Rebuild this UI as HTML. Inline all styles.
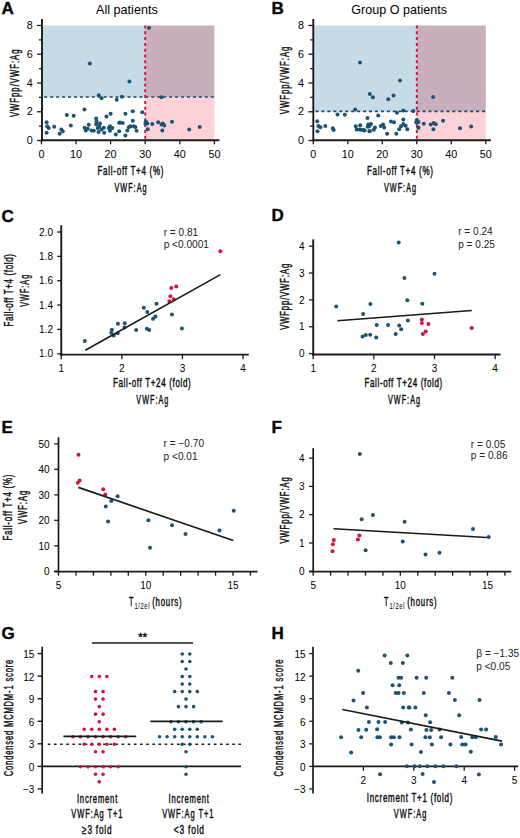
<!DOCTYPE html>
<html><head><meta charset="utf-8"><style>
html,body{margin:0;padding:0;background:#fff;}
svg{display:block;font-family:"Liberation Sans", sans-serif;}
</style></head><body>
<svg width="520" height="838" viewBox="0 0 520 838">
<rect width="520" height="838" fill="#fff"/>
<rect x="42.90" y="25.50" width="102.30" height="71.88" fill="#c6dbe6"/>
<rect x="145.20" y="25.50" width="69.20" height="71.88" fill="#c9aebc"/>
<rect x="145.20" y="97.38" width="69.20" height="43.12" fill="#fcd1d8"/>
<line x1="44.20" y1="96.97" x2="214.40" y2="96.97" stroke="#1b4d6a" stroke-width="1.6" stroke-dasharray="3 2.95"/>
<line x1="145.20" y1="25.50" x2="145.20" y2="140.50" stroke="#d8103c" stroke-width="1.9" stroke-dasharray="3 2.8"/>
<circle cx="46.60" cy="122.20" r="2.0" fill="#1a5374"/>
<circle cx="47.20" cy="126.30" r="2.0" fill="#1a5374"/>
<circle cx="48.70" cy="127.90" r="2.0" fill="#1a5374"/>
<circle cx="46.60" cy="132.70" r="2.0" fill="#1a5374"/>
<circle cx="54.20" cy="126.80" r="2.0" fill="#1a5374"/>
<circle cx="59.60" cy="133.70" r="2.0" fill="#1a5374"/>
<circle cx="61.30" cy="129.40" r="2.0" fill="#1a5374"/>
<circle cx="62.70" cy="131.20" r="2.0" fill="#1a5374"/>
<circle cx="66.80" cy="115.00" r="2.0" fill="#1a5374"/>
<circle cx="73.70" cy="115.80" r="2.0" fill="#1a5374"/>
<circle cx="70.80" cy="125.60" r="2.0" fill="#1a5374"/>
<circle cx="84.40" cy="109.50" r="2.0" fill="#1a5374"/>
<circle cx="106.50" cy="116.50" r="2.0" fill="#1a5374"/>
<circle cx="110.60" cy="113.80" r="2.0" fill="#1a5374"/>
<circle cx="96.20" cy="118.50" r="2.0" fill="#1a5374"/>
<circle cx="88.80" cy="124.80" r="2.0" fill="#1a5374"/>
<circle cx="84.60" cy="127.70" r="2.0" fill="#1a5374"/>
<circle cx="85.80" cy="130.40" r="2.0" fill="#1a5374"/>
<circle cx="87.70" cy="128.80" r="2.0" fill="#1a5374"/>
<circle cx="91.50" cy="130.40" r="2.0" fill="#1a5374"/>
<circle cx="93.80" cy="130.80" r="2.0" fill="#1a5374"/>
<circle cx="96.50" cy="121.50" r="2.0" fill="#1a5374"/>
<circle cx="96.20" cy="124.20" r="2.0" fill="#1a5374"/>
<circle cx="100.00" cy="123.50" r="2.0" fill="#1a5374"/>
<circle cx="97.70" cy="128.00" r="2.0" fill="#1a5374"/>
<circle cx="99.20" cy="126.50" r="2.0" fill="#1a5374"/>
<circle cx="101.50" cy="129.60" r="2.0" fill="#1a5374"/>
<circle cx="98.50" cy="131.90" r="2.0" fill="#1a5374"/>
<circle cx="103.80" cy="127.70" r="2.0" fill="#1a5374"/>
<circle cx="104.20" cy="132.70" r="2.0" fill="#1a5374"/>
<circle cx="110.00" cy="126.20" r="2.0" fill="#1a5374"/>
<circle cx="108.80" cy="128.00" r="2.0" fill="#1a5374"/>
<circle cx="112.30" cy="128.00" r="2.0" fill="#1a5374"/>
<circle cx="110.00" cy="130.80" r="2.0" fill="#1a5374"/>
<circle cx="115.80" cy="134.60" r="2.0" fill="#1a5374"/>
<circle cx="119.20" cy="122.70" r="2.0" fill="#1a5374"/>
<circle cx="119.20" cy="131.20" r="2.0" fill="#1a5374"/>
<circle cx="125.40" cy="113.80" r="2.0" fill="#1a5374"/>
<circle cx="132.80" cy="111.20" r="2.0" fill="#1a5374"/>
<circle cx="142.30" cy="112.20" r="2.0" fill="#1a5374"/>
<circle cx="120.00" cy="122.50" r="2.0" fill="#1a5374"/>
<circle cx="122.70" cy="123.10" r="2.0" fill="#1a5374"/>
<circle cx="132.80" cy="120.80" r="2.0" fill="#1a5374"/>
<circle cx="130.40" cy="126.20" r="2.0" fill="#1a5374"/>
<circle cx="133.80" cy="126.20" r="2.0" fill="#1a5374"/>
<circle cx="135.40" cy="127.00" r="2.0" fill="#1a5374"/>
<circle cx="128.80" cy="127.30" r="2.0" fill="#1a5374"/>
<circle cx="127.30" cy="130.40" r="2.0" fill="#1a5374"/>
<circle cx="136.50" cy="130.80" r="2.0" fill="#1a5374"/>
<circle cx="125.40" cy="135.40" r="2.0" fill="#1a5374"/>
<circle cx="145.80" cy="121.50" r="2.0" fill="#1a5374"/>
<circle cx="145.40" cy="123.80" r="2.0" fill="#1a5374"/>
<circle cx="147.30" cy="123.50" r="2.0" fill="#1a5374"/>
<circle cx="152.30" cy="124.00" r="2.0" fill="#1a5374"/>
<circle cx="147.70" cy="129.20" r="2.0" fill="#1a5374"/>
<circle cx="149.00" cy="27.80" r="2.0" fill="#1a5374"/>
<circle cx="129.40" cy="81.40" r="2.0" fill="#1a5374"/>
<circle cx="98.70" cy="95.20" r="2.0" fill="#1a5374"/>
<circle cx="101.50" cy="98.30" r="2.0" fill="#1a5374"/>
<circle cx="121.90" cy="96.70" r="2.0" fill="#1a5374"/>
<circle cx="116.70" cy="99.80" r="2.0" fill="#1a5374"/>
<circle cx="89.80" cy="63.60" r="2.0" fill="#1a5374"/>
<circle cx="161.50" cy="97.20" r="2.0" fill="#1a5374"/>
<circle cx="158.20" cy="122.30" r="2.0" fill="#1a5374"/>
<circle cx="161.50" cy="124.60" r="2.0" fill="#1a5374"/>
<circle cx="162.80" cy="123.50" r="2.0" fill="#1a5374"/>
<circle cx="164.30" cy="125.40" r="2.0" fill="#1a5374"/>
<circle cx="162.30" cy="130.50" r="2.0" fill="#1a5374"/>
<circle cx="172.00" cy="121.80" r="2.0" fill="#1a5374"/>
<circle cx="189.20" cy="129.40" r="2.0" fill="#1a5374"/>
<circle cx="199.70" cy="126.90" r="2.0" fill="#1a5374"/>
<line x1="42.00" y1="19.00" x2="42.00" y2="141.20" stroke="#1a1a1a" stroke-width="1.9"/>
<line x1="41.10" y1="140.30" x2="219.40" y2="140.30" stroke="#1a1a1a" stroke-width="1.9"/>
<line x1="37.10" y1="140.50" x2="42.00" y2="140.50" stroke="#1a1a1a" stroke-width="1.3"/>
<text x="32.80" y="144.10" font-size="10.8" text-anchor="end">0</text>
<line x1="38.90" y1="126.12" x2="42.00" y2="126.12" stroke="#1a1a1a" stroke-width="1.3"/>
<line x1="37.10" y1="111.75" x2="42.00" y2="111.75" stroke="#1a1a1a" stroke-width="1.3"/>
<text x="32.80" y="115.35" font-size="10.8" text-anchor="end">2</text>
<line x1="38.90" y1="97.38" x2="42.00" y2="97.38" stroke="#1a1a1a" stroke-width="1.3"/>
<line x1="37.10" y1="83.00" x2="42.00" y2="83.00" stroke="#1a1a1a" stroke-width="1.3"/>
<text x="32.80" y="86.60" font-size="10.8" text-anchor="end">4</text>
<line x1="38.90" y1="68.62" x2="42.00" y2="68.62" stroke="#1a1a1a" stroke-width="1.3"/>
<line x1="37.10" y1="54.25" x2="42.00" y2="54.25" stroke="#1a1a1a" stroke-width="1.3"/>
<text x="32.80" y="57.85" font-size="10.8" text-anchor="end">6</text>
<line x1="38.90" y1="39.88" x2="42.00" y2="39.88" stroke="#1a1a1a" stroke-width="1.3"/>
<line x1="37.10" y1="25.50" x2="42.00" y2="25.50" stroke="#1a1a1a" stroke-width="1.3"/>
<text x="32.80" y="29.10" font-size="10.8" text-anchor="end">8</text>
<line x1="41.40" y1="140.30" x2="41.40" y2="144.30" stroke="#1a1a1a" stroke-width="1.3"/>
<text x="41.40" y="157.60" font-size="10.8" text-anchor="middle">0</text>
<line x1="76.00" y1="140.30" x2="76.00" y2="144.30" stroke="#1a1a1a" stroke-width="1.3"/>
<text x="76.00" y="157.60" font-size="10.8" text-anchor="middle">10</text>
<line x1="110.60" y1="140.30" x2="110.60" y2="144.30" stroke="#1a1a1a" stroke-width="1.3"/>
<text x="110.60" y="157.60" font-size="10.8" text-anchor="middle">20</text>
<line x1="145.20" y1="140.30" x2="145.20" y2="144.30" stroke="#1a1a1a" stroke-width="1.3"/>
<text x="145.20" y="157.60" font-size="10.8" text-anchor="middle">30</text>
<line x1="179.80" y1="140.30" x2="179.80" y2="144.30" stroke="#1a1a1a" stroke-width="1.3"/>
<text x="179.80" y="157.60" font-size="10.8" text-anchor="middle">40</text>
<line x1="214.40" y1="140.30" x2="214.40" y2="144.30" stroke="#1a1a1a" stroke-width="1.3"/>
<text x="214.40" y="157.60" font-size="10.8" text-anchor="middle">50</text>
<text x="126.90" y="13.50" font-size="12.6" text-anchor="middle">All patients</text>
<text x="1.50" y="13.85" font-size="17" text-anchor="start" font-weight="bold" stroke="#1a1a1a" stroke-width="0.45">A</text>
<rect x="314.20" y="25.50" width="102.60" height="86.25" fill="#c6dbe6"/>
<rect x="416.80" y="25.50" width="69.00" height="86.25" fill="#c9aebc"/>
<rect x="416.80" y="111.75" width="69.00" height="28.75" fill="#fcd1d8"/>
<line x1="315.50" y1="111.35" x2="485.80" y2="111.35" stroke="#1b4d6a" stroke-width="1.6" stroke-dasharray="3 2.95"/>
<line x1="416.80" y1="25.50" x2="416.80" y2="140.50" stroke="#d8103c" stroke-width="1.9" stroke-dasharray="3 2.8"/>
<circle cx="317.20" cy="121.30" r="2.0" fill="#1a5374"/>
<circle cx="318.30" cy="125.90" r="2.0" fill="#1a5374"/>
<circle cx="320.40" cy="127.30" r="2.0" fill="#1a5374"/>
<circle cx="317.50" cy="131.30" r="2.0" fill="#1a5374"/>
<circle cx="325.30" cy="125.90" r="2.0" fill="#1a5374"/>
<circle cx="332.80" cy="128.20" r="2.0" fill="#1a5374"/>
<circle cx="333.70" cy="130.00" r="2.0" fill="#1a5374"/>
<circle cx="337.50" cy="114.40" r="2.0" fill="#1a5374"/>
<circle cx="344.80" cy="114.80" r="2.0" fill="#1a5374"/>
<circle cx="355.20" cy="109.40" r="2.0" fill="#1a5374"/>
<circle cx="355.80" cy="126.20" r="2.0" fill="#1a5374"/>
<circle cx="360.20" cy="125.20" r="2.0" fill="#1a5374"/>
<circle cx="356.70" cy="129.60" r="2.0" fill="#1a5374"/>
<circle cx="359.60" cy="129.60" r="2.0" fill="#1a5374"/>
<circle cx="363.70" cy="130.00" r="2.0" fill="#1a5374"/>
<circle cx="367.50" cy="118.10" r="2.0" fill="#1a5374"/>
<circle cx="368.30" cy="124.40" r="2.0" fill="#1a5374"/>
<circle cx="367.70" cy="126.70" r="2.0" fill="#1a5374"/>
<circle cx="369.40" cy="131.30" r="2.0" fill="#1a5374"/>
<circle cx="369.80" cy="94.00" r="2.0" fill="#1a5374"/>
<circle cx="372.90" cy="97.20" r="2.0" fill="#1a5374"/>
<circle cx="388.30" cy="99.20" r="2.0" fill="#1a5374"/>
<circle cx="393.50" cy="95.50" r="2.0" fill="#1a5374"/>
<circle cx="396.90" cy="112.80" r="2.0" fill="#1a5374"/>
<circle cx="403.30" cy="110.50" r="2.0" fill="#1a5374"/>
<circle cx="413.30" cy="111.00" r="2.0" fill="#1a5374"/>
<circle cx="378.20" cy="115.60" r="2.0" fill="#1a5374"/>
<circle cx="403.30" cy="119.40" r="2.0" fill="#1a5374"/>
<circle cx="390.90" cy="121.40" r="2.0" fill="#1a5374"/>
<circle cx="394.00" cy="122.30" r="2.0" fill="#1a5374"/>
<circle cx="371.00" cy="124.00" r="2.0" fill="#1a5374"/>
<circle cx="369.20" cy="126.30" r="2.0" fill="#1a5374"/>
<circle cx="375.00" cy="127.50" r="2.0" fill="#1a5374"/>
<circle cx="373.80" cy="129.80" r="2.0" fill="#1a5374"/>
<circle cx="369.80" cy="131.00" r="2.0" fill="#1a5374"/>
<circle cx="364.60" cy="130.40" r="2.0" fill="#1a5374"/>
<circle cx="361.20" cy="129.80" r="2.0" fill="#1a5374"/>
<circle cx="383.10" cy="124.40" r="2.0" fill="#1a5374"/>
<circle cx="380.80" cy="126.00" r="2.0" fill="#1a5374"/>
<circle cx="384.20" cy="127.50" r="2.0" fill="#1a5374"/>
<circle cx="403.30" cy="124.00" r="2.0" fill="#1a5374"/>
<circle cx="401.00" cy="126.30" r="2.0" fill="#1a5374"/>
<circle cx="405.60" cy="125.80" r="2.0" fill="#1a5374"/>
<circle cx="399.20" cy="129.20" r="2.0" fill="#1a5374"/>
<circle cx="407.30" cy="129.20" r="2.0" fill="#1a5374"/>
<circle cx="387.10" cy="133.80" r="2.0" fill="#1a5374"/>
<circle cx="396.30" cy="133.80" r="2.0" fill="#1a5374"/>
<circle cx="417.10" cy="121.20" r="2.0" fill="#1a5374"/>
<circle cx="418.30" cy="127.50" r="2.0" fill="#1a5374"/>
<circle cx="433.10" cy="96.90" r="2.0" fill="#1a5374"/>
<circle cx="416.90" cy="120.00" r="2.0" fill="#1a5374"/>
<circle cx="416.20" cy="122.30" r="2.0" fill="#1a5374"/>
<circle cx="418.50" cy="122.00" r="2.0" fill="#1a5374"/>
<circle cx="418.50" cy="127.70" r="2.0" fill="#1a5374"/>
<circle cx="423.80" cy="123.80" r="2.0" fill="#1a5374"/>
<circle cx="430.80" cy="124.60" r="2.0" fill="#1a5374"/>
<circle cx="433.80" cy="123.10" r="2.0" fill="#1a5374"/>
<circle cx="435.80" cy="124.20" r="2.0" fill="#1a5374"/>
<circle cx="433.40" cy="129.20" r="2.0" fill="#1a5374"/>
<circle cx="443.10" cy="120.80" r="2.0" fill="#1a5374"/>
<circle cx="460.00" cy="128.20" r="2.0" fill="#1a5374"/>
<circle cx="471.20" cy="126.50" r="2.0" fill="#1a5374"/>
<circle cx="360.00" cy="62.50" r="2.0" fill="#1a5374"/>
<circle cx="400.00" cy="80.50" r="2.0" fill="#1a5374"/>
<line x1="313.30" y1="19.00" x2="313.30" y2="141.20" stroke="#1a1a1a" stroke-width="1.9"/>
<line x1="312.40" y1="140.30" x2="490.80" y2="140.30" stroke="#1a1a1a" stroke-width="1.9"/>
<line x1="308.40" y1="140.50" x2="313.30" y2="140.50" stroke="#1a1a1a" stroke-width="1.3"/>
<text x="304.10" y="144.10" font-size="10.8" text-anchor="end">0</text>
<line x1="310.20" y1="126.12" x2="313.30" y2="126.12" stroke="#1a1a1a" stroke-width="1.3"/>
<line x1="308.40" y1="111.75" x2="313.30" y2="111.75" stroke="#1a1a1a" stroke-width="1.3"/>
<text x="304.10" y="115.35" font-size="10.8" text-anchor="end">2</text>
<line x1="310.20" y1="97.38" x2="313.30" y2="97.38" stroke="#1a1a1a" stroke-width="1.3"/>
<line x1="308.40" y1="83.00" x2="313.30" y2="83.00" stroke="#1a1a1a" stroke-width="1.3"/>
<text x="304.10" y="86.60" font-size="10.8" text-anchor="end">4</text>
<line x1="310.20" y1="68.62" x2="313.30" y2="68.62" stroke="#1a1a1a" stroke-width="1.3"/>
<line x1="308.40" y1="54.25" x2="313.30" y2="54.25" stroke="#1a1a1a" stroke-width="1.3"/>
<text x="304.10" y="57.85" font-size="10.8" text-anchor="end">6</text>
<line x1="310.20" y1="39.88" x2="313.30" y2="39.88" stroke="#1a1a1a" stroke-width="1.3"/>
<line x1="308.40" y1="25.50" x2="313.30" y2="25.50" stroke="#1a1a1a" stroke-width="1.3"/>
<text x="304.10" y="29.10" font-size="10.8" text-anchor="end">8</text>
<line x1="313.30" y1="140.30" x2="313.30" y2="144.30" stroke="#1a1a1a" stroke-width="1.3"/>
<text x="313.30" y="157.60" font-size="10.8" text-anchor="middle">0</text>
<line x1="347.80" y1="140.30" x2="347.80" y2="144.30" stroke="#1a1a1a" stroke-width="1.3"/>
<text x="347.80" y="157.60" font-size="10.8" text-anchor="middle">10</text>
<line x1="382.30" y1="140.30" x2="382.30" y2="144.30" stroke="#1a1a1a" stroke-width="1.3"/>
<text x="382.30" y="157.60" font-size="10.8" text-anchor="middle">20</text>
<line x1="416.80" y1="140.30" x2="416.80" y2="144.30" stroke="#1a1a1a" stroke-width="1.3"/>
<text x="416.80" y="157.60" font-size="10.8" text-anchor="middle">30</text>
<line x1="451.30" y1="140.30" x2="451.30" y2="144.30" stroke="#1a1a1a" stroke-width="1.3"/>
<text x="451.30" y="157.60" font-size="10.8" text-anchor="middle">40</text>
<line x1="485.80" y1="140.30" x2="485.80" y2="144.30" stroke="#1a1a1a" stroke-width="1.3"/>
<text x="485.80" y="157.60" font-size="10.8" text-anchor="middle">50</text>
<text x="399.10" y="13.50" font-size="12.6" text-anchor="middle">Group O patients</text>
<text x="271.50" y="13.85" font-size="17" text-anchor="start" font-weight="bold" stroke="#1a1a1a" stroke-width="0.45">B</text>
<text x="0" y="0" font-size="12.3" text-anchor="middle" stroke="#1a1a1a" stroke-width="0.45" textLength="100.76" lengthAdjust="spacing" transform="translate(130.50 174.90) scale(0.6550 1)">Fall-off T+4 (%)</text>
<text x="0" y="0" font-size="12.3" text-anchor="middle" stroke="#1a1a1a" stroke-width="0.45" textLength="54.51" lengthAdjust="spacing" transform="translate(130.50 191.80) scale(0.5870 1)">VWF:Ag</text>
<text x="0" y="0" font-size="12.3" text-anchor="middle" stroke="#1a1a1a" stroke-width="0.45" textLength="100.76" lengthAdjust="spacing" transform="translate(400.00 174.90) scale(0.6550 1)">Fall-off T+4 (%)</text>
<text x="0" y="0" font-size="12.3" text-anchor="middle" stroke="#1a1a1a" stroke-width="0.45" textLength="54.51" lengthAdjust="spacing" transform="translate(400.00 191.80) scale(0.5870 1)">VWF:Ag</text>
<text x="0" y="0" font-size="12.3" text-anchor="middle" stroke="#1a1a1a" stroke-width="0.45" textLength="107.40" lengthAdjust="spacing" transform="translate(18.80 83.30) rotate(-90) scale(0.6285 1)">VWFpp/VWF:Ag</text>
<text x="0" y="0" font-size="12.3" text-anchor="middle" stroke="#1a1a1a" stroke-width="0.45" textLength="107.40" lengthAdjust="spacing" transform="translate(288.60 80.40) rotate(-90) scale(0.6285 1)">VWFpp/VWF:Ag</text>
<line x1="61.25" y1="225.30" x2="61.25" y2="355.60" stroke="#1a1a1a" stroke-width="1.9"/>
<line x1="60.30" y1="354.60" x2="248.75" y2="354.60" stroke="#1a1a1a" stroke-width="1.9"/>
<line x1="57.20" y1="353.75" x2="61.25" y2="353.75" stroke="#1a1a1a" stroke-width="1.3"/>
<text x="53.00" y="357.45" font-size="10.0" text-anchor="end">1.0</text>
<line x1="57.20" y1="329.40" x2="61.25" y2="329.40" stroke="#1a1a1a" stroke-width="1.3"/>
<text x="53.00" y="333.10" font-size="10.0" text-anchor="end">1.2</text>
<line x1="57.20" y1="305.05" x2="61.25" y2="305.05" stroke="#1a1a1a" stroke-width="1.3"/>
<text x="53.00" y="308.75" font-size="10.0" text-anchor="end">1.4</text>
<line x1="57.20" y1="280.70" x2="61.25" y2="280.70" stroke="#1a1a1a" stroke-width="1.3"/>
<text x="53.00" y="284.40" font-size="10.0" text-anchor="end">1.6</text>
<line x1="57.20" y1="256.35" x2="61.25" y2="256.35" stroke="#1a1a1a" stroke-width="1.3"/>
<text x="53.00" y="260.05" font-size="10.0" text-anchor="end">1.8</text>
<line x1="57.20" y1="232.00" x2="61.25" y2="232.00" stroke="#1a1a1a" stroke-width="1.3"/>
<text x="53.00" y="235.70" font-size="10.0" text-anchor="end">2.0</text>
<line x1="61.25" y1="354.60" x2="61.25" y2="359.20" stroke="#1a1a1a" stroke-width="1.3"/>
<text x="61.25" y="372.30" font-size="10.0" text-anchor="middle">1</text>
<line x1="121.85" y1="354.60" x2="121.85" y2="359.20" stroke="#1a1a1a" stroke-width="1.3"/>
<text x="121.85" y="372.30" font-size="10.0" text-anchor="middle">2</text>
<line x1="182.45" y1="354.60" x2="182.45" y2="359.20" stroke="#1a1a1a" stroke-width="1.3"/>
<text x="182.45" y="372.30" font-size="10.0" text-anchor="middle">3</text>
<line x1="243.05" y1="354.60" x2="243.05" y2="359.20" stroke="#1a1a1a" stroke-width="1.3"/>
<text x="243.05" y="372.30" font-size="10.0" text-anchor="middle">4</text>
<circle cx="84.80" cy="341.10" r="2.0" fill="#1a5374"/>
<circle cx="111.90" cy="329.80" r="2.0" fill="#1a5374"/>
<circle cx="111.30" cy="332.70" r="2.0" fill="#1a5374"/>
<circle cx="113.70" cy="335.60" r="2.0" fill="#1a5374"/>
<circle cx="117.90" cy="323.70" r="2.0" fill="#1a5374"/>
<circle cx="117.70" cy="333.30" r="2.0" fill="#1a5374"/>
<circle cx="124.80" cy="323.20" r="2.0" fill="#1a5374"/>
<circle cx="124.60" cy="327.50" r="2.0" fill="#1a5374"/>
<circle cx="136.20" cy="330.00" r="2.0" fill="#1a5374"/>
<circle cx="143.80" cy="307.70" r="2.0" fill="#1a5374"/>
<circle cx="147.30" cy="312.10" r="2.0" fill="#1a5374"/>
<circle cx="155.40" cy="316.50" r="2.0" fill="#1a5374"/>
<circle cx="153.10" cy="318.80" r="2.0" fill="#1a5374"/>
<circle cx="156.50" cy="303.80" r="2.0" fill="#1a5374"/>
<circle cx="171.90" cy="314.60" r="2.0" fill="#1a5374"/>
<circle cx="146.90" cy="328.80" r="2.0" fill="#1a5374"/>
<circle cx="149.20" cy="330.00" r="2.0" fill="#1a5374"/>
<circle cx="181.90" cy="328.50" r="2.0" fill="#1a5374"/>
<circle cx="220.40" cy="251.20" r="2.0" fill="#d6113f"/>
<circle cx="171.30" cy="288.10" r="2.0" fill="#d6113f"/>
<circle cx="176.20" cy="286.50" r="2.0" fill="#d6113f"/>
<circle cx="170.40" cy="296.30" r="2.0" fill="#d6113f"/>
<circle cx="169.40" cy="301.20" r="2.0" fill="#d6113f"/>
<circle cx="173.80" cy="299.20" r="2.0" fill="#d6113f"/>
<line x1="85.30" y1="350.30" x2="220.40" y2="274.60" stroke="#1a1a1a" stroke-width="1.65"/>
<text x="163.70" y="235.60" font-size="10.1" text-anchor="start" fill="#222222">r = 0.81</text>
<text x="163.70" y="247.80" font-size="10.1" text-anchor="start" fill="#222222">p &lt;0.0001</text>
<text x="0" y="0" font-size="12.3" text-anchor="middle" stroke="#1a1a1a" stroke-width="0.45" textLength="119.49" lengthAdjust="spacing" transform="translate(151.80 386.60) scale(0.6511 1)">Fall-off T+24 (fold)</text>
<text x="0" y="0" font-size="12.3" text-anchor="middle" stroke="#1a1a1a" stroke-width="0.45" textLength="54.51" lengthAdjust="spacing" transform="translate(152.30 403.50) scale(0.5870 1)">VWF:Ag</text>
<text x="0" y="0" font-size="12.3" text-anchor="middle" stroke="#1a1a1a" stroke-width="0.45" textLength="111.35" lengthAdjust="spacing" transform="translate(13.20 290.30) rotate(-90) scale(0.6520 1)">Fall-off T+4 (fold)</text>
<text x="0" y="0" font-size="12.3" text-anchor="middle" stroke="#1a1a1a" stroke-width="0.45" textLength="54.51" lengthAdjust="spacing" transform="translate(28.90 290.80) rotate(-90) scale(0.5870 1)">VWF:Ag</text>
<text x="1.50" y="222.00" font-size="17" text-anchor="start" font-weight="bold" stroke="#1a1a1a" stroke-width="0.45">C</text>
<line x1="313.20" y1="239.40" x2="313.20" y2="355.40" stroke="#1a1a1a" stroke-width="1.9"/>
<line x1="312.20" y1="354.50" x2="500.50" y2="354.50" stroke="#1a1a1a" stroke-width="1.9"/>
<line x1="309.00" y1="353.60" x2="313.20" y2="353.60" stroke="#1a1a1a" stroke-width="1.3"/>
<text x="304.50" y="357.30" font-size="10.0" text-anchor="end">0</text>
<line x1="309.00" y1="326.75" x2="313.20" y2="326.75" stroke="#1a1a1a" stroke-width="1.3"/>
<text x="304.50" y="330.45" font-size="10.0" text-anchor="end">1</text>
<line x1="309.00" y1="299.90" x2="313.20" y2="299.90" stroke="#1a1a1a" stroke-width="1.3"/>
<text x="304.50" y="303.60" font-size="10.0" text-anchor="end">2</text>
<line x1="309.00" y1="273.05" x2="313.20" y2="273.05" stroke="#1a1a1a" stroke-width="1.3"/>
<text x="304.50" y="276.75" font-size="10.0" text-anchor="end">3</text>
<line x1="309.00" y1="246.20" x2="313.20" y2="246.20" stroke="#1a1a1a" stroke-width="1.3"/>
<text x="304.50" y="249.90" font-size="10.0" text-anchor="end">4</text>
<line x1="313.20" y1="354.50" x2="313.20" y2="359.20" stroke="#1a1a1a" stroke-width="1.3"/>
<text x="313.20" y="372.30" font-size="10.0" text-anchor="middle">1</text>
<line x1="373.85" y1="354.50" x2="373.85" y2="359.20" stroke="#1a1a1a" stroke-width="1.3"/>
<text x="373.85" y="372.30" font-size="10.0" text-anchor="middle">2</text>
<line x1="434.50" y1="354.50" x2="434.50" y2="359.20" stroke="#1a1a1a" stroke-width="1.3"/>
<text x="434.50" y="372.30" font-size="10.0" text-anchor="middle">3</text>
<line x1="495.15" y1="354.50" x2="495.15" y2="359.20" stroke="#1a1a1a" stroke-width="1.3"/>
<text x="495.15" y="372.30" font-size="10.0" text-anchor="middle">4</text>
<circle cx="398.70" cy="242.50" r="2.0" fill="#1a5374"/>
<circle cx="404.40" cy="278.10" r="2.0" fill="#1a5374"/>
<circle cx="434.50" cy="273.75" r="2.0" fill="#1a5374"/>
<circle cx="370.40" cy="304.00" r="2.0" fill="#1a5374"/>
<circle cx="407.30" cy="300.30" r="2.0" fill="#1a5374"/>
<circle cx="422.30" cy="303.70" r="2.0" fill="#1a5374"/>
<circle cx="336.20" cy="306.50" r="2.0" fill="#1a5374"/>
<circle cx="363.10" cy="314.00" r="2.0" fill="#1a5374"/>
<circle cx="407.90" cy="320.60" r="2.0" fill="#1a5374"/>
<circle cx="376.70" cy="325.10" r="2.0" fill="#1a5374"/>
<circle cx="388.10" cy="324.90" r="2.0" fill="#1a5374"/>
<circle cx="399.20" cy="325.60" r="2.0" fill="#1a5374"/>
<circle cx="401.20" cy="329.30" r="2.0" fill="#1a5374"/>
<circle cx="395.70" cy="334.10" r="2.0" fill="#1a5374"/>
<circle cx="362.60" cy="336.50" r="2.0" fill="#1a5374"/>
<circle cx="365.80" cy="335.00" r="2.0" fill="#1a5374"/>
<circle cx="370.20" cy="334.70" r="2.0" fill="#1a5374"/>
<circle cx="376.20" cy="337.40" r="2.0" fill="#1a5374"/>
<circle cx="421.90" cy="319.40" r="2.0" fill="#d6113f"/>
<circle cx="421.90" cy="323.00" r="2.0" fill="#d6113f"/>
<circle cx="428.40" cy="324.00" r="2.0" fill="#d6113f"/>
<circle cx="425.70" cy="331.40" r="2.0" fill="#d6113f"/>
<circle cx="422.90" cy="334.00" r="2.0" fill="#d6113f"/>
<circle cx="471.75" cy="328.00" r="2.0" fill="#d6113f"/>
<line x1="337.40" y1="320.70" x2="471.75" y2="310.50" stroke="#1a1a1a" stroke-width="1.65"/>
<text x="458.20" y="235.40" font-size="10.1" text-anchor="start" fill="#222222">r = 0.24</text>
<text x="458.20" y="247.60" font-size="10.1" text-anchor="start" fill="#222222">p = 0.25</text>
<text x="0" y="0" font-size="12.3" text-anchor="middle" stroke="#1a1a1a" stroke-width="0.45" textLength="119.49" lengthAdjust="spacing" transform="translate(403.30 386.60) scale(0.6511 1)">Fall-off T+24 (fold)</text>
<text x="0" y="0" font-size="12.3" text-anchor="middle" stroke="#1a1a1a" stroke-width="0.45" textLength="54.51" lengthAdjust="spacing" transform="translate(404.00 403.50) scale(0.5870 1)">VWF:Ag</text>
<text x="0" y="0" font-size="12.3" text-anchor="middle" stroke="#1a1a1a" stroke-width="0.45" textLength="107.40" lengthAdjust="spacing" transform="translate(289.00 296.80) rotate(-90) scale(0.6145 1)">VWFpp/VWF:Ag</text>
<text x="271.50" y="220.60" font-size="17" text-anchor="start" font-weight="bold" stroke="#1a1a1a" stroke-width="0.45">D</text>
<line x1="58.50" y1="437.20" x2="58.50" y2="573.00" stroke="#1a1a1a" stroke-width="1.7"/>
<line x1="54.20" y1="571.60" x2="257.50" y2="571.60" stroke="#1a1a1a" stroke-width="1.7"/>
<line x1="54.20" y1="571.30" x2="58.50" y2="571.30" stroke="#1a1a1a" stroke-width="1.3"/>
<text x="49.50" y="575.00" font-size="10.0" text-anchor="end">0</text>
<line x1="54.20" y1="545.81" x2="58.50" y2="545.81" stroke="#1a1a1a" stroke-width="1.3"/>
<text x="49.50" y="549.51" font-size="10.0" text-anchor="end">10</text>
<line x1="54.20" y1="520.32" x2="58.50" y2="520.32" stroke="#1a1a1a" stroke-width="1.3"/>
<text x="49.50" y="524.02" font-size="10.0" text-anchor="end">20</text>
<line x1="54.20" y1="494.83" x2="58.50" y2="494.83" stroke="#1a1a1a" stroke-width="1.3"/>
<text x="49.50" y="498.53" font-size="10.0" text-anchor="end">30</text>
<line x1="54.20" y1="469.34" x2="58.50" y2="469.34" stroke="#1a1a1a" stroke-width="1.3"/>
<text x="49.50" y="473.04" font-size="10.0" text-anchor="end">40</text>
<line x1="54.20" y1="443.85" x2="58.50" y2="443.85" stroke="#1a1a1a" stroke-width="1.3"/>
<text x="49.50" y="447.55" font-size="10.0" text-anchor="end">50</text>
<line x1="58.50" y1="571.60" x2="58.50" y2="575.70" stroke="#1a1a1a" stroke-width="1.3"/>
<line x1="75.95" y1="571.60" x2="75.95" y2="575.70" stroke="#1a1a1a" stroke-width="1.3"/>
<line x1="93.40" y1="571.60" x2="93.40" y2="575.70" stroke="#1a1a1a" stroke-width="1.3"/>
<line x1="110.85" y1="571.60" x2="110.85" y2="575.70" stroke="#1a1a1a" stroke-width="1.3"/>
<line x1="128.30" y1="571.60" x2="128.30" y2="575.70" stroke="#1a1a1a" stroke-width="1.3"/>
<line x1="145.75" y1="571.60" x2="145.75" y2="575.70" stroke="#1a1a1a" stroke-width="1.3"/>
<line x1="163.20" y1="571.60" x2="163.20" y2="575.70" stroke="#1a1a1a" stroke-width="1.3"/>
<line x1="180.65" y1="571.60" x2="180.65" y2="575.70" stroke="#1a1a1a" stroke-width="1.3"/>
<line x1="198.10" y1="571.60" x2="198.10" y2="575.70" stroke="#1a1a1a" stroke-width="1.3"/>
<line x1="215.55" y1="571.60" x2="215.55" y2="575.70" stroke="#1a1a1a" stroke-width="1.3"/>
<line x1="233.00" y1="571.60" x2="233.00" y2="575.70" stroke="#1a1a1a" stroke-width="1.3"/>
<line x1="250.45" y1="571.60" x2="250.45" y2="575.70" stroke="#1a1a1a" stroke-width="1.3"/>
<text x="58.50" y="588.80" font-size="10.0" text-anchor="middle">5</text>
<text x="145.75" y="588.80" font-size="10.0" text-anchor="middle">10</text>
<text x="233.00" y="588.80" font-size="10.0" text-anchor="middle">15</text>
<circle cx="117.60" cy="496.30" r="2.0" fill="#1a5374"/>
<circle cx="111.30" cy="501.00" r="2.0" fill="#1a5374"/>
<circle cx="105.80" cy="506.60" r="2.0" fill="#1a5374"/>
<circle cx="108.10" cy="521.60" r="2.0" fill="#1a5374"/>
<circle cx="148.40" cy="520.30" r="2.0" fill="#1a5374"/>
<circle cx="150.00" cy="547.75" r="2.0" fill="#1a5374"/>
<circle cx="172.00" cy="525.25" r="2.0" fill="#1a5374"/>
<circle cx="185.50" cy="534.00" r="2.0" fill="#1a5374"/>
<circle cx="219.50" cy="530.50" r="2.0" fill="#1a5374"/>
<circle cx="233.75" cy="510.75" r="2.0" fill="#1a5374"/>
<circle cx="78.50" cy="454.70" r="2.0" fill="#d6113f"/>
<circle cx="79.60" cy="480.40" r="2.0" fill="#d6113f"/>
<circle cx="77.80" cy="482.70" r="2.0" fill="#d6113f"/>
<circle cx="103.20" cy="489.30" r="2.0" fill="#d6113f"/>
<circle cx="105.30" cy="494.60" r="2.0" fill="#d6113f"/>
<line x1="78.30" y1="487.40" x2="233.30" y2="540.50" stroke="#1a1a1a" stroke-width="1.65"/>
<text x="163.60" y="447.10" font-size="10.1" text-anchor="start" fill="#222222">r = −0.70</text>
<text x="163.60" y="459.80" font-size="10.1" text-anchor="start" fill="#222222">p &lt;0.01</text>
<text x="0" y="0" font-size="12.3" text-anchor="middle" stroke="#1a1a1a" stroke-width="0.45" textLength="100.76" lengthAdjust="spacing" transform="translate(11.60 507.50) rotate(-90) scale(0.6550 1)">Fall-off T+4 (%)</text>
<text x="0" y="0" font-size="12.3" text-anchor="middle" stroke="#1a1a1a" stroke-width="0.45" textLength="54.51" lengthAdjust="spacing" transform="translate(27.40 507.40) rotate(-90) scale(0.6054 1)">VWF:Ag</text>
<text x="1.50" y="432.50" font-size="17" text-anchor="start" font-weight="bold" stroke="#1a1a1a" stroke-width="0.45">E</text>
<line x1="313.20" y1="448.20" x2="313.20" y2="573.00" stroke="#1a1a1a" stroke-width="1.7"/>
<line x1="309.00" y1="571.60" x2="511.30" y2="571.60" stroke="#1a1a1a" stroke-width="1.7"/>
<line x1="309.00" y1="571.30" x2="313.20" y2="571.30" stroke="#1a1a1a" stroke-width="1.3"/>
<text x="304.50" y="575.00" font-size="10.0" text-anchor="end">0</text>
<line x1="309.00" y1="543.00" x2="313.20" y2="543.00" stroke="#1a1a1a" stroke-width="1.3"/>
<text x="304.50" y="546.70" font-size="10.0" text-anchor="end">1</text>
<line x1="309.00" y1="514.70" x2="313.20" y2="514.70" stroke="#1a1a1a" stroke-width="1.3"/>
<text x="304.50" y="518.40" font-size="10.0" text-anchor="end">2</text>
<line x1="309.00" y1="486.40" x2="313.20" y2="486.40" stroke="#1a1a1a" stroke-width="1.3"/>
<text x="304.50" y="490.10" font-size="10.0" text-anchor="end">3</text>
<line x1="309.00" y1="458.10" x2="313.20" y2="458.10" stroke="#1a1a1a" stroke-width="1.3"/>
<text x="304.50" y="461.80" font-size="10.0" text-anchor="end">4</text>
<line x1="313.20" y1="571.60" x2="313.20" y2="575.70" stroke="#1a1a1a" stroke-width="1.3"/>
<line x1="330.63" y1="571.60" x2="330.63" y2="575.70" stroke="#1a1a1a" stroke-width="1.3"/>
<line x1="348.06" y1="571.60" x2="348.06" y2="575.70" stroke="#1a1a1a" stroke-width="1.3"/>
<line x1="365.49" y1="571.60" x2="365.49" y2="575.70" stroke="#1a1a1a" stroke-width="1.3"/>
<line x1="382.92" y1="571.60" x2="382.92" y2="575.70" stroke="#1a1a1a" stroke-width="1.3"/>
<line x1="400.35" y1="571.60" x2="400.35" y2="575.70" stroke="#1a1a1a" stroke-width="1.3"/>
<line x1="417.78" y1="571.60" x2="417.78" y2="575.70" stroke="#1a1a1a" stroke-width="1.3"/>
<line x1="435.21" y1="571.60" x2="435.21" y2="575.70" stroke="#1a1a1a" stroke-width="1.3"/>
<line x1="452.64" y1="571.60" x2="452.64" y2="575.70" stroke="#1a1a1a" stroke-width="1.3"/>
<line x1="470.07" y1="571.60" x2="470.07" y2="575.70" stroke="#1a1a1a" stroke-width="1.3"/>
<line x1="487.50" y1="571.60" x2="487.50" y2="575.70" stroke="#1a1a1a" stroke-width="1.3"/>
<line x1="504.93" y1="571.60" x2="504.93" y2="575.70" stroke="#1a1a1a" stroke-width="1.3"/>
<text x="313.20" y="588.80" font-size="10.0" text-anchor="middle">5</text>
<text x="400.35" y="588.80" font-size="10.0" text-anchor="middle">10</text>
<text x="487.50" y="588.80" font-size="10.0" text-anchor="middle">15</text>
<circle cx="359.80" cy="454.00" r="2.0" fill="#1a5374"/>
<circle cx="372.90" cy="515.00" r="2.0" fill="#1a5374"/>
<circle cx="361.70" cy="519.20" r="2.0" fill="#1a5374"/>
<circle cx="404.60" cy="521.70" r="2.0" fill="#1a5374"/>
<circle cx="402.70" cy="541.40" r="2.0" fill="#1a5374"/>
<circle cx="365.60" cy="550.20" r="2.0" fill="#1a5374"/>
<circle cx="425.50" cy="554.50" r="2.0" fill="#1a5374"/>
<circle cx="439.50" cy="552.75" r="2.0" fill="#1a5374"/>
<circle cx="473.00" cy="529.00" r="2.0" fill="#1a5374"/>
<circle cx="488.75" cy="537.00" r="2.0" fill="#1a5374"/>
<circle cx="333.80" cy="540.00" r="2.0" fill="#d6113f"/>
<circle cx="332.90" cy="544.20" r="2.0" fill="#d6113f"/>
<circle cx="332.50" cy="551.20" r="2.0" fill="#d6113f"/>
<circle cx="359.40" cy="535.60" r="2.0" fill="#d6113f"/>
<circle cx="357.90" cy="539.40" r="2.0" fill="#d6113f"/>
<line x1="333.50" y1="528.80" x2="487.00" y2="537.50" stroke="#1a1a1a" stroke-width="1.65"/>
<text x="470.80" y="447.50" font-size="10.1" text-anchor="start" fill="#222222">r = 0.05</text>
<text x="470.80" y="459.30" font-size="10.1" text-anchor="start" fill="#222222">p = 0.86</text>
<text x="0" y="0" font-size="12.3" text-anchor="middle" stroke="#1a1a1a" stroke-width="0.45" textLength="107.40" lengthAdjust="spacing" transform="translate(289.00 510.40) rotate(-90) scale(0.6173 1)">VWFpp/VWF:Ag</text>
<text x="271.50" y="432.50" font-size="17" text-anchor="start" font-weight="bold" stroke="#1a1a1a" stroke-width="0.45">F</text>
<text x="0" y="0" font-size="12.3" text-anchor="start" stroke="#1a1a1a" stroke-width="0.45" textLength="8.94" lengthAdjust="spacing" transform="translate(129.00 605.70) scale(0.5814 1)">T</text>
<text x="0" y="0" font-size="9.8" text-anchor="start" textLength="25.30" lengthAdjust="spacing" transform="translate(134.50 608.80) scale(0.5930 1)">1/2el</text>
<text x="0" y="0" font-size="12.3" text-anchor="start" stroke="#1a1a1a" stroke-width="0.45" textLength="46.38" lengthAdjust="spacing" transform="translate(152.20 605.70) scale(0.6339 1)">(hours)</text>
<text x="0" y="0" font-size="12.3" text-anchor="start" stroke="#1a1a1a" stroke-width="0.45" textLength="8.94" lengthAdjust="spacing" transform="translate(384.00 605.70) scale(0.5814 1)">T</text>
<text x="0" y="0" font-size="9.8" text-anchor="start" textLength="25.30" lengthAdjust="spacing" transform="translate(389.50 608.80) scale(0.5930 1)">1/2el</text>
<text x="0" y="0" font-size="12.3" text-anchor="start" stroke="#1a1a1a" stroke-width="0.45" textLength="46.38" lengthAdjust="spacing" transform="translate(407.20 605.70) scale(0.6339 1)">(hours)</text>
<line x1="42.20" y1="646.70" x2="42.20" y2="793.60" stroke="#1a1a1a" stroke-width="1.7"/>
<line x1="37.60" y1="788.96" x2="42.20" y2="788.96" stroke="#1a1a1a" stroke-width="1.4"/>
<text x="34.40" y="793.36" font-size="10.0" text-anchor="end">−3</text>
<line x1="37.60" y1="766.40" x2="42.20" y2="766.40" stroke="#1a1a1a" stroke-width="1.4"/>
<text x="34.40" y="770.80" font-size="10.0" text-anchor="end">0</text>
<line x1="37.60" y1="743.84" x2="42.20" y2="743.84" stroke="#1a1a1a" stroke-width="1.4"/>
<text x="34.40" y="748.24" font-size="10.0" text-anchor="end">3</text>
<line x1="37.60" y1="721.28" x2="42.20" y2="721.28" stroke="#1a1a1a" stroke-width="1.4"/>
<text x="34.40" y="725.68" font-size="10.0" text-anchor="end">6</text>
<line x1="37.60" y1="698.72" x2="42.20" y2="698.72" stroke="#1a1a1a" stroke-width="1.4"/>
<text x="34.40" y="703.12" font-size="10.0" text-anchor="end">9</text>
<line x1="37.60" y1="676.16" x2="42.20" y2="676.16" stroke="#1a1a1a" stroke-width="1.4"/>
<text x="34.40" y="680.56" font-size="10.0" text-anchor="end">12</text>
<line x1="37.60" y1="653.60" x2="42.20" y2="653.60" stroke="#1a1a1a" stroke-width="1.4"/>
<text x="34.40" y="658.00" font-size="10.0" text-anchor="end">15</text>
<line x1="42.20" y1="766.40" x2="241.00" y2="766.40" stroke="#1a1a1a" stroke-width="1.7"/>
<line x1="47.80" y1="744.24" x2="241.00" y2="744.24" stroke="#1a1a1a" stroke-width="1.5" stroke-dasharray="2.6 3.55"/>
<circle cx="91.75" cy="676.56" r="1.8" fill="#d6113f"/>
<circle cx="99.30" cy="676.56" r="1.8" fill="#d6113f"/>
<circle cx="106.85" cy="676.56" r="1.8" fill="#d6113f"/>
<circle cx="95.52" cy="691.60" r="1.8" fill="#d6113f"/>
<circle cx="103.08" cy="691.60" r="1.8" fill="#d6113f"/>
<circle cx="95.52" cy="699.12" r="1.8" fill="#d6113f"/>
<circle cx="103.08" cy="699.12" r="1.8" fill="#d6113f"/>
<circle cx="99.30" cy="706.64" r="1.8" fill="#d6113f"/>
<circle cx="95.52" cy="714.16" r="1.8" fill="#d6113f"/>
<circle cx="103.08" cy="714.16" r="1.8" fill="#d6113f"/>
<circle cx="99.30" cy="721.68" r="1.8" fill="#d6113f"/>
<circle cx="84.20" cy="729.20" r="1.8" fill="#d6113f"/>
<circle cx="91.75" cy="729.20" r="1.8" fill="#d6113f"/>
<circle cx="99.30" cy="729.20" r="1.8" fill="#d6113f"/>
<circle cx="106.85" cy="729.20" r="1.8" fill="#d6113f"/>
<circle cx="114.40" cy="729.20" r="1.8" fill="#d6113f"/>
<circle cx="72.88" cy="736.72" r="1.8" fill="#d6113f"/>
<circle cx="80.42" cy="736.72" r="1.8" fill="#d6113f"/>
<circle cx="87.97" cy="736.72" r="1.8" fill="#d6113f"/>
<circle cx="95.52" cy="736.72" r="1.8" fill="#d6113f"/>
<circle cx="103.08" cy="736.72" r="1.8" fill="#d6113f"/>
<circle cx="110.62" cy="736.72" r="1.8" fill="#d6113f"/>
<circle cx="118.17" cy="736.72" r="1.8" fill="#d6113f"/>
<circle cx="125.72" cy="736.72" r="1.8" fill="#d6113f"/>
<circle cx="84.20" cy="744.24" r="1.8" fill="#d6113f"/>
<circle cx="91.75" cy="744.24" r="1.8" fill="#d6113f"/>
<circle cx="99.30" cy="744.24" r="1.8" fill="#d6113f"/>
<circle cx="106.85" cy="744.24" r="1.8" fill="#d6113f"/>
<circle cx="114.40" cy="744.24" r="1.8" fill="#d6113f"/>
<circle cx="95.52" cy="751.76" r="1.8" fill="#d6113f"/>
<circle cx="103.08" cy="751.76" r="1.8" fill="#d6113f"/>
<circle cx="80.42" cy="766.80" r="1.8" fill="#d6113f"/>
<circle cx="87.97" cy="766.80" r="1.8" fill="#d6113f"/>
<circle cx="95.52" cy="766.80" r="1.8" fill="#d6113f"/>
<circle cx="103.08" cy="766.80" r="1.8" fill="#d6113f"/>
<circle cx="110.62" cy="766.80" r="1.8" fill="#d6113f"/>
<circle cx="118.17" cy="766.80" r="1.8" fill="#d6113f"/>
<circle cx="95.52" cy="774.32" r="1.8" fill="#d6113f"/>
<circle cx="103.08" cy="774.32" r="1.8" fill="#d6113f"/>
<circle cx="99.30" cy="781.84" r="1.8" fill="#d6113f"/>
<circle cx="182.22" cy="654.00" r="1.8" fill="#1a5374"/>
<circle cx="189.78" cy="654.00" r="1.8" fill="#1a5374"/>
<circle cx="182.22" cy="661.52" r="1.8" fill="#1a5374"/>
<circle cx="189.78" cy="661.52" r="1.8" fill="#1a5374"/>
<circle cx="186.00" cy="669.04" r="1.8" fill="#1a5374"/>
<circle cx="182.22" cy="676.56" r="1.8" fill="#1a5374"/>
<circle cx="189.78" cy="676.56" r="1.8" fill="#1a5374"/>
<circle cx="182.22" cy="684.08" r="1.8" fill="#1a5374"/>
<circle cx="189.78" cy="684.08" r="1.8" fill="#1a5374"/>
<circle cx="174.68" cy="691.60" r="1.8" fill="#1a5374"/>
<circle cx="182.22" cy="691.60" r="1.8" fill="#1a5374"/>
<circle cx="189.78" cy="691.60" r="1.8" fill="#1a5374"/>
<circle cx="197.32" cy="691.60" r="1.8" fill="#1a5374"/>
<circle cx="186.00" cy="699.12" r="1.8" fill="#1a5374"/>
<circle cx="178.45" cy="706.64" r="1.8" fill="#1a5374"/>
<circle cx="186.00" cy="706.64" r="1.8" fill="#1a5374"/>
<circle cx="193.55" cy="706.64" r="1.8" fill="#1a5374"/>
<circle cx="170.90" cy="721.68" r="1.8" fill="#1a5374"/>
<circle cx="178.45" cy="721.68" r="1.8" fill="#1a5374"/>
<circle cx="186.00" cy="721.68" r="1.8" fill="#1a5374"/>
<circle cx="193.55" cy="721.68" r="1.8" fill="#1a5374"/>
<circle cx="201.10" cy="721.68" r="1.8" fill="#1a5374"/>
<circle cx="174.68" cy="729.20" r="1.8" fill="#1a5374"/>
<circle cx="182.22" cy="729.20" r="1.8" fill="#1a5374"/>
<circle cx="189.78" cy="729.20" r="1.8" fill="#1a5374"/>
<circle cx="197.32" cy="729.20" r="1.8" fill="#1a5374"/>
<circle cx="159.57" cy="736.72" r="1.8" fill="#1a5374"/>
<circle cx="167.12" cy="736.72" r="1.8" fill="#1a5374"/>
<circle cx="174.68" cy="736.72" r="1.8" fill="#1a5374"/>
<circle cx="182.22" cy="736.72" r="1.8" fill="#1a5374"/>
<circle cx="189.78" cy="736.72" r="1.8" fill="#1a5374"/>
<circle cx="197.32" cy="736.72" r="1.8" fill="#1a5374"/>
<circle cx="204.88" cy="736.72" r="1.8" fill="#1a5374"/>
<circle cx="212.43" cy="736.72" r="1.8" fill="#1a5374"/>
<circle cx="182.22" cy="744.24" r="1.8" fill="#1a5374"/>
<circle cx="189.78" cy="744.24" r="1.8" fill="#1a5374"/>
<circle cx="186.00" cy="751.76" r="1.8" fill="#1a5374"/>
<circle cx="186.00" cy="766.80" r="1.8" fill="#1a5374"/>
<circle cx="186.00" cy="774.32" r="1.8" fill="#1a5374"/>
<line x1="63.40" y1="736.32" x2="136.20" y2="736.32" stroke="#1a1a1a" stroke-width="1.8"/>
<line x1="150.30" y1="721.28" x2="222.70" y2="721.28" stroke="#1a1a1a" stroke-width="1.8"/>
<line x1="91.90" y1="642.90" x2="193.00" y2="642.90" stroke="#1a1a1a" stroke-width="1.5"/>
<text x="142.65" y="640.60" font-size="11" text-anchor="middle" stroke="#1a1a1a" stroke-width="0.45">**</text>
<text x="0" y="0" font-size="12.3" text-anchor="middle" stroke="#1a1a1a" stroke-width="0.45" textLength="189.60" lengthAdjust="spacing" transform="translate(12.50 718.00) rotate(-90) scale(0.6145 1)">Condensed MCMDM-1 score</text>
<text x="0" y="0" font-size="12.3" text-anchor="middle" stroke="#1a1a1a" stroke-width="0.45" textLength="65.10" lengthAdjust="spacing" transform="translate(97.10 802.50) scale(0.6206 1)">Increment</text>
<text x="0" y="0" font-size="12.3" text-anchor="middle" stroke="#1a1a1a" stroke-width="0.45" textLength="83.95" lengthAdjust="spacing" transform="translate(96.90 818.10) scale(0.6111 1)">VWF:Ag T+1</text>
<text x="0" y="0" font-size="12.3" text-anchor="middle" stroke="#1a1a1a" stroke-width="0.45" textLength="43.86" lengthAdjust="spacing" transform="translate(96.80 833.70) scale(0.6704 1)">≥3 fold</text>
<text x="0" y="0" font-size="12.3" text-anchor="middle" stroke="#1a1a1a" stroke-width="0.45" textLength="65.10" lengthAdjust="spacing" transform="translate(188.80 802.50) scale(0.6206 1)">Increment</text>
<text x="0" y="0" font-size="12.3" text-anchor="middle" stroke="#1a1a1a" stroke-width="0.45" textLength="83.95" lengthAdjust="spacing" transform="translate(187.80 818.10) scale(0.6111 1)">VWF:Ag T+1</text>
<text x="0" y="0" font-size="12.3" text-anchor="middle" stroke="#1a1a1a" stroke-width="0.45" textLength="44.37" lengthAdjust="spacing" transform="translate(188.90 833.70) scale(0.6806 1)">&lt;3 fold</text>
<text x="1.50" y="638.60" font-size="17" text-anchor="start" font-weight="bold" stroke="#1a1a1a" stroke-width="0.45">G</text>
<line x1="313.00" y1="646.70" x2="313.00" y2="793.60" stroke="#1a1a1a" stroke-width="1.7"/>
<line x1="309.30" y1="788.96" x2="313.00" y2="788.96" stroke="#1a1a1a" stroke-width="1.3"/>
<text x="305.60" y="793.36" font-size="10.0" text-anchor="end">−3</text>
<line x1="309.30" y1="766.40" x2="313.00" y2="766.40" stroke="#1a1a1a" stroke-width="1.3"/>
<text x="305.60" y="770.80" font-size="10.0" text-anchor="end">0</text>
<line x1="309.30" y1="743.84" x2="313.00" y2="743.84" stroke="#1a1a1a" stroke-width="1.3"/>
<text x="305.60" y="748.24" font-size="10.0" text-anchor="end">3</text>
<line x1="309.30" y1="721.28" x2="313.00" y2="721.28" stroke="#1a1a1a" stroke-width="1.3"/>
<text x="305.60" y="725.68" font-size="10.0" text-anchor="end">6</text>
<line x1="309.30" y1="698.72" x2="313.00" y2="698.72" stroke="#1a1a1a" stroke-width="1.3"/>
<text x="305.60" y="703.12" font-size="10.0" text-anchor="end">9</text>
<line x1="309.30" y1="676.16" x2="313.00" y2="676.16" stroke="#1a1a1a" stroke-width="1.3"/>
<text x="305.60" y="680.56" font-size="10.0" text-anchor="end">12</text>
<line x1="309.30" y1="653.60" x2="313.00" y2="653.60" stroke="#1a1a1a" stroke-width="1.3"/>
<text x="305.60" y="658.00" font-size="10.0" text-anchor="end">15</text>
<line x1="312.20" y1="766.40" x2="518.20" y2="766.40" stroke="#1a1a1a" stroke-width="1.7"/>
<line x1="363.40" y1="766.40" x2="363.40" y2="770.80" stroke="#1a1a1a" stroke-width="1.3"/>
<text x="363.40" y="784.40" font-size="10.0" text-anchor="middle">2</text>
<line x1="413.80" y1="766.40" x2="413.80" y2="770.80" stroke="#1a1a1a" stroke-width="1.3"/>
<text x="413.80" y="784.40" font-size="10.0" text-anchor="middle">3</text>
<line x1="464.20" y1="766.40" x2="464.20" y2="770.80" stroke="#1a1a1a" stroke-width="1.3"/>
<text x="464.20" y="784.40" font-size="10.0" text-anchor="middle">4</text>
<line x1="514.60" y1="766.40" x2="514.60" y2="770.80" stroke="#1a1a1a" stroke-width="1.3"/>
<text x="514.60" y="784.40" font-size="10.0" text-anchor="middle">5</text>
<circle cx="384.60" cy="655.50" r="2.0" fill="#1a5374"/>
<circle cx="407.30" cy="655.50" r="2.0" fill="#1a5374"/>
<circle cx="390.80" cy="663.00" r="2.0" fill="#1a5374"/>
<circle cx="402.80" cy="663.00" r="2.0" fill="#1a5374"/>
<circle cx="358.20" cy="670.70" r="2.0" fill="#1a5374"/>
<circle cx="398.50" cy="677.80" r="2.0" fill="#1a5374"/>
<circle cx="401.10" cy="677.80" r="2.0" fill="#1a5374"/>
<circle cx="392.60" cy="685.30" r="2.0" fill="#1a5374"/>
<circle cx="399.20" cy="685.30" r="2.0" fill="#1a5374"/>
<circle cx="363.10" cy="693.00" r="2.0" fill="#1a5374"/>
<circle cx="395.80" cy="693.00" r="2.0" fill="#1a5374"/>
<circle cx="398.50" cy="693.00" r="2.0" fill="#1a5374"/>
<circle cx="403.80" cy="693.00" r="2.0" fill="#1a5374"/>
<circle cx="353.50" cy="700.40" r="2.0" fill="#1a5374"/>
<circle cx="366.90" cy="707.60" r="2.0" fill="#1a5374"/>
<circle cx="403.10" cy="707.60" r="2.0" fill="#1a5374"/>
<circle cx="408.80" cy="707.60" r="2.0" fill="#1a5374"/>
<circle cx="416.60" cy="677.80" r="2.0" fill="#1a5374"/>
<circle cx="426.20" cy="677.80" r="2.0" fill="#1a5374"/>
<circle cx="452.30" cy="677.80" r="2.0" fill="#1a5374"/>
<circle cx="423.80" cy="693.00" r="2.0" fill="#1a5374"/>
<circle cx="448.90" cy="693.00" r="2.0" fill="#1a5374"/>
<circle cx="454.90" cy="700.10" r="2.0" fill="#1a5374"/>
<circle cx="479.50" cy="700.10" r="2.0" fill="#1a5374"/>
<circle cx="409.50" cy="707.60" r="2.0" fill="#1a5374"/>
<circle cx="415.40" cy="707.60" r="2.0" fill="#1a5374"/>
<circle cx="425.70" cy="715.30" r="2.0" fill="#1a5374"/>
<circle cx="459.20" cy="715.30" r="2.0" fill="#1a5374"/>
<circle cx="368.90" cy="722.00" r="2.0" fill="#1a5374"/>
<circle cx="378.50" cy="722.00" r="2.0" fill="#1a5374"/>
<circle cx="385.10" cy="722.00" r="2.0" fill="#1a5374"/>
<circle cx="401.80" cy="722.60" r="2.0" fill="#1a5374"/>
<circle cx="407.90" cy="722.60" r="2.0" fill="#1a5374"/>
<circle cx="358.50" cy="730.00" r="2.0" fill="#1a5374"/>
<circle cx="366.20" cy="729.70" r="2.0" fill="#1a5374"/>
<circle cx="377.10" cy="729.20" r="2.0" fill="#1a5374"/>
<circle cx="341.10" cy="737.20" r="2.0" fill="#1a5374"/>
<circle cx="361.20" cy="737.20" r="2.0" fill="#1a5374"/>
<circle cx="377.40" cy="737.20" r="2.0" fill="#1a5374"/>
<circle cx="380.00" cy="737.20" r="2.0" fill="#1a5374"/>
<circle cx="391.10" cy="737.20" r="2.0" fill="#1a5374"/>
<circle cx="393.80" cy="737.20" r="2.0" fill="#1a5374"/>
<circle cx="399.50" cy="737.20" r="2.0" fill="#1a5374"/>
<circle cx="391.10" cy="744.60" r="2.0" fill="#1a5374"/>
<circle cx="351.10" cy="752.60" r="2.0" fill="#1a5374"/>
<circle cx="380.10" cy="774.20" r="2.0" fill="#1a5374"/>
<circle cx="430.10" cy="722.30" r="2.0" fill="#1a5374"/>
<circle cx="410.90" cy="729.60" r="2.0" fill="#1a5374"/>
<circle cx="426.40" cy="730.00" r="2.0" fill="#1a5374"/>
<circle cx="431.20" cy="730.00" r="2.0" fill="#1a5374"/>
<circle cx="439.60" cy="729.40" r="2.0" fill="#1a5374"/>
<circle cx="425.40" cy="737.20" r="2.0" fill="#1a5374"/>
<circle cx="429.80" cy="737.20" r="2.0" fill="#1a5374"/>
<circle cx="441.10" cy="737.20" r="2.0" fill="#1a5374"/>
<circle cx="461.20" cy="737.00" r="2.0" fill="#1a5374"/>
<circle cx="472.30" cy="737.20" r="2.0" fill="#1a5374"/>
<circle cx="475.80" cy="737.20" r="2.0" fill="#1a5374"/>
<circle cx="411.60" cy="744.40" r="2.0" fill="#1a5374"/>
<circle cx="431.90" cy="744.40" r="2.0" fill="#1a5374"/>
<circle cx="450.40" cy="744.40" r="2.0" fill="#1a5374"/>
<circle cx="462.30" cy="744.40" r="2.0" fill="#1a5374"/>
<circle cx="465.60" cy="744.40" r="2.0" fill="#1a5374"/>
<circle cx="420.90" cy="752.00" r="2.0" fill="#1a5374"/>
<circle cx="470.80" cy="751.80" r="2.0" fill="#1a5374"/>
<circle cx="407.00" cy="766.30" r="2.0" fill="#1a5374"/>
<circle cx="414.60" cy="766.30" r="2.0" fill="#1a5374"/>
<circle cx="419.80" cy="766.30" r="2.0" fill="#1a5374"/>
<circle cx="427.40" cy="766.30" r="2.0" fill="#1a5374"/>
<circle cx="435.40" cy="766.30" r="2.0" fill="#1a5374"/>
<circle cx="443.50" cy="766.30" r="2.0" fill="#1a5374"/>
<circle cx="456.40" cy="766.30" r="2.0" fill="#1a5374"/>
<circle cx="422.60" cy="773.90" r="2.0" fill="#1a5374"/>
<circle cx="478.90" cy="774.40" r="2.0" fill="#1a5374"/>
<circle cx="434.00" cy="781.90" r="2.0" fill="#1a5374"/>
<circle cx="481.10" cy="729.60" r="2.0" fill="#1a5374"/>
<circle cx="486.10" cy="729.60" r="2.0" fill="#1a5374"/>
<circle cx="495.80" cy="737.00" r="2.0" fill="#1a5374"/>
<circle cx="501.10" cy="744.40" r="2.0" fill="#1a5374"/>
<line x1="342.30" y1="709.50" x2="502.00" y2="741.10" stroke="#1a1a1a" stroke-width="1.65"/>
<text x="476.30" y="656.80" font-size="10.1" text-anchor="start" fill="#222222">β = −1.35</text>
<text x="476.30" y="669.60" font-size="10.1" text-anchor="start" fill="#222222">p &lt;0.05</text>
<text x="0" y="0" font-size="12.3" text-anchor="middle" stroke="#1a1a1a" stroke-width="0.45" textLength="189.60" lengthAdjust="spacing" transform="translate(283.30 718.00) rotate(-90) scale(0.6171 1)">Condensed MCMDM-1 score</text>
<text x="0" y="0" font-size="12.3" text-anchor="middle" stroke="#1a1a1a" stroke-width="0.45" textLength="131.97" lengthAdjust="spacing" transform="translate(409.50 801.70) scale(0.6486 1)">Increment T+1 (fold)</text>
<text x="0" y="0" font-size="12.3" text-anchor="middle" stroke="#1a1a1a" stroke-width="0.45" textLength="54.51" lengthAdjust="spacing" transform="translate(410.00 817.70) scale(0.5981 1)">VWF:Ag</text>
<text x="271.50" y="638.60" font-size="17" text-anchor="start" font-weight="bold" stroke="#1a1a1a" stroke-width="0.45">H</text>
</svg></body></html>
